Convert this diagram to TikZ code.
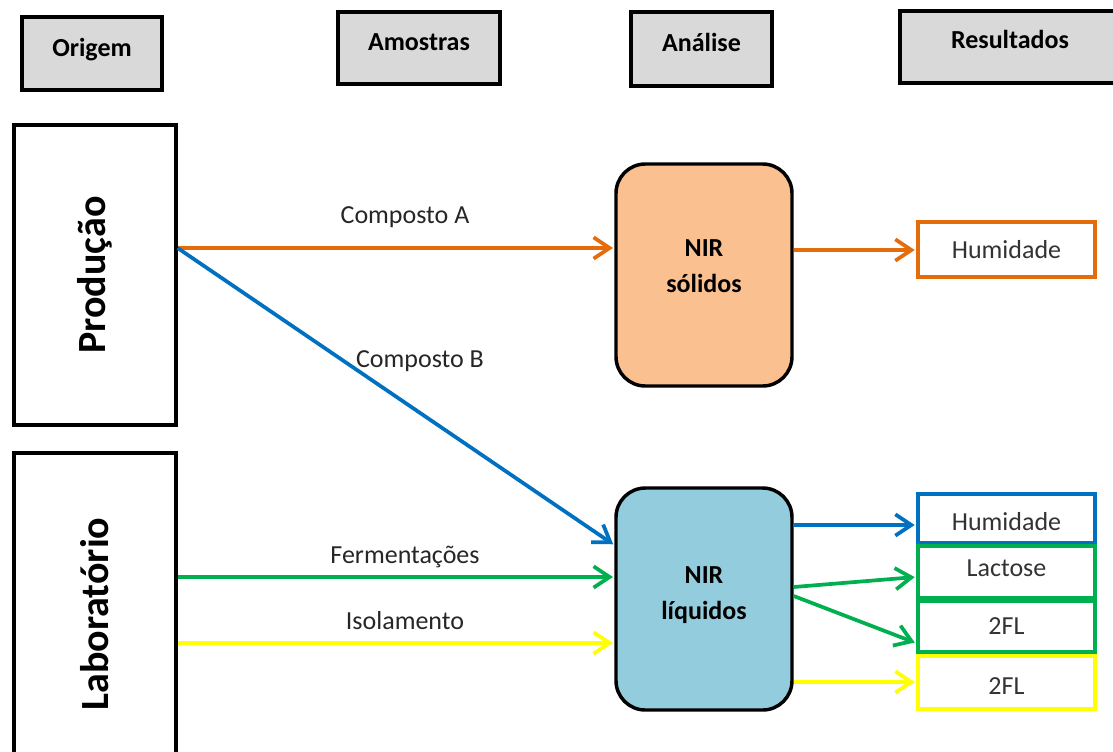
\documentclass[tikz,border=0pt]{standalone}
\usepackage{fontspec}
\setmainfont{Carlito}
\usetikzlibrary{arrows.meta,calc}

\definecolor{corange}{HTML}{E46C0A}
\definecolor{cblue}{HTML}{0070C0}
\definecolor{cgreen}{HTML}{00B050}
\definecolor{cyellow}{HTML}{FFFF00}
\definecolor{cpeach}{HTML}{FAC090}
\definecolor{caqua}{HTML}{93CDDD}
\definecolor{cgray}{HTML}{D9D9D9}

\tikzset{
  header/.style={draw=black, line width=3pt, fill=cgray, inner sep=0pt,
    font=\fontsize{19.5}{22}\selectfont\bfseries, text height=13pt, text depth=9pt},
  source/.style={draw=black, line width=2.4pt, fill=white, inner sep=0pt,
    font=\fontsize{30}{34}\selectfont\bfseries, rotate=90},
  instrument/.style={draw=black, line width=2.6pt, rounded corners=22pt, inner sep=0pt,
    minimum width=132pt, minimum height=166.5pt, align=center,
    font=\fontsize{19.5}{27}\selectfont\bfseries},
  result/.style={line width=3pt, fill=white, inner sep=0pt, minimum width=132.75pt,
    font=\fontsize{19.5}{22}\selectfont, text=black!80},
  flow/.style={line width=2.8pt, -{Straight Barb[length=12pt,width=16pt,line width=2.8pt]}, shorten >=1pt},
  lbl/.style={font=\fontsize{19.5}{22}\selectfont, text=black!85, inner sep=0pt},
}

\begin{document}
\begin{tikzpicture}[x=0.75pt, y=-0.75pt]
\useasboundingbox (0,0) rectangle (1113,751);

% column headers
\node[header, minimum width=105pt, minimum height=54.75pt] (origem) at (92,53.5) {Origem};
\node[header, minimum width=121.5pt, minimum height=54pt] (amostras) at (419,48) {Amostras};
\node[header, minimum width=105.75pt, minimum height=55.5pt] (analise) at (701.5,49) {Análise};
\node[header, minimum width=165pt, minimum height=54pt, text depth=11pt] (resultados) at (1010,47) {Resultados};

% sample origins (rotated text)
\node[source, minimum width=225pt, minimum height=121.5pt] (prod) at (95,275) {Produção};
\node[source, minimum width=241.5pt, minimum height=121.5pt] (lab) at (95,614) {Laboratório};

% NIR instruments
\node[instrument, fill=cpeach, text depth=14pt] (nirs) at (704,275) {NIR\\sólidos};
\node[instrument, fill=caqua, text depth=9pt] (nirl) at (704,599) {NIR\\líquidos};

% results
\node[result, draw=corange, minimum height=41.25pt] (humo) at (1006.5,249.5) {Humidade};
\node[result, draw=cblue, minimum height=36.75pt, text height=18pt, text depth=0pt] (humb) at (1006.5,518.5) {Humidade};
\node[result, draw=cgreen, minimum height=39pt, text depth=6pt] (lac) at (1006.5,572) {Lactose};
\node[result, draw=cgreen, minimum height=38.25pt] (fla) at (1006.5,626.5) {2FL};
\node[result, draw=cyellow, minimum height=39.75pt, text height=18pt, text depth=0pt] (flb) at (1006.5,682.5) {2FL};

% sample flows
\draw[flow, corange] (prod.south |- 0,248) -- (nirs.west |- 0,248);
\draw[flow, cblue] (prod.south |- 0,248) -- (nirl.west |- 0,545);
\draw[flow, cgreen] (lab.south |- 0,577) -- (nirl.west |- 0,577);
\draw[flow, cyellow] (lab.south |- 0,643) -- (nirl.west |- 0,643);

\node[lbl] (la) at (405,217) {Composto A};
\node[lbl] (lb) at (420,361) {Composto B};
\node[lbl] (lf) at (405,557) {Fermentações};
\node[lbl] (li) at (405,621) {Isolamento};

% result flows
\draw[flow, corange] (nirs.east |- 0,250) -- (humo.west |- 0,250);
\draw[flow, cblue] (nirl.east |- 0,525) -- (humb.west |- 0,525);
\draw[flow, cgreen] (nirl.east |- 0,587) -- (lac.west |- 0,577);
\draw[flow, cgreen] (nirl.east |- 0,596) -- (fla.west |- 0,643);
\draw[flow, cyellow] (nirl.east |- 0,682) -- (flb.west |- 0,682);
\end{tikzpicture}
\end{document}
